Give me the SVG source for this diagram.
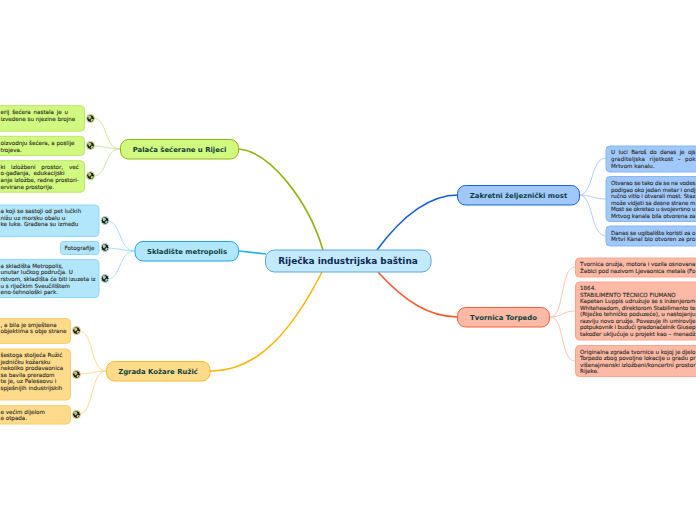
<svg xmlns="http://www.w3.org/2000/svg" width="696" height="520" viewBox="0 0 696 520">
<defs>
<g id="globe"><circle r="3.9" fill="#1c1c14" stroke="currentColor" stroke-width="1"/><path d="M-2.5-2.500L0-3 1-1-1 1-2 0ZM1 0L3 1 1 3 0 2Z" fill="#b9c9a0"/></g>
</defs>
<style>
text{font-family:"DejaVu Sans",Verdana,sans-serif}
.t{font-size:5.6px;fill:#2e2e26;stroke:#2e2e26;stroke-width:.12px}
.b{font-size:6.9px;font-weight:bold;fill:#0f3f3a}
.l{fill:none}
</style>
<rect width="696" height="520" fill="#fff"/>
<g id="connectors" class="l">
<g stroke-width="1.6">
<path d="M239 149C270 152 308 200 323 250" stroke="#8fb510"/>
<path d="M239 251L266 254" stroke="#1fb2ee"/>
<path d="M210 371C260 372 295 325 322 272" stroke="#fdb50a"/>
<path d="M377 250C405 212 432 195 458 195" stroke="#1560d8"/>
<path d="M378 272C405 302 430 317 458 317" stroke="#fa5a2a"/>
</g>
<g stroke-width="1">
<path d="M120 149C104 149 108 118 93 118" stroke="#cfe89a"/>
<path d="M120 149C110 149 105 146 93 146" stroke="#cfe89a"/>
<path d="M120 149C104 149 108 176 93 176" stroke="#cfe89a"/>
<path d="M135 251C118 251 122 221 107 221" stroke="#a6e0fb"/>
<path d="M135 251C124 251 118 248 107 248" stroke="#a6e0fb"/>
<path d="M135 251C118 251 122 279 107 279" stroke="#a6e0fb"/>
<path d="M106 371C90 371 94 331 79 331" stroke="#fcdc96"/>
<path d="M106 371C95 371 90 374 79 374" stroke="#fcdc96"/>
<path d="M106 371C90 371 94 414 79 414" stroke="#fcdc96"/>
<path d="M579 195C594 195 590 158 606 158" stroke="#b0cdfa"/>
<path d="M579 195C592 195 593 199 606 199" stroke="#b0cdfa"/>
<path d="M579 195C594 195 590 236 606 236" stroke="#b0cdfa"/>
<path d="M550 317C565 317 560 267 575 267" stroke="#fbc6b2"/>
<path d="M550 317C562 317 563 311 575 311" stroke="#fbc6b2"/>
<path d="M550 317C565 317 560 361 575 361" stroke="#fbc6b2"/>
</g>
</g>
<g id="root"><rect x="265.500" y="250" width="165.500" height="22" rx="9" fill="#c3e9fc" stroke="#58a8dc"/><text x="348" y="264.200" text-anchor="middle" style="font-size:8.950px;font-weight:bold;fill:#0d2a55">Riječka industrijska baština</text></g>
<g id="palaca"><rect x="120.500" y="139.500" width="118" height="19.500" rx="8" fill="#d2f97f" stroke="#8fb510"/><text x="179.500" y="151.700" text-anchor="middle" class="b">Palača šećerane u Rijeci</text></g>
<g id="skladiste"><rect x="135" y="241.500" width="103.500" height="19.500" rx="8" fill="#b1e6fd" stroke="#1fa8e6"/><text x="187" y="253.700" text-anchor="middle" class="b">Skladište metropolis</text></g>
<g id="ruzic"><rect x="106.500" y="361.500" width="103.500" height="19.500" rx="8" fill="#fedb8a" stroke="#fdb52a"/><text x="158" y="373.700" text-anchor="middle" class="b">Zgrada Kožare Ružić</text></g>
<g id="zakretni"><rect x="457.500" y="185.500" width="122" height="19.500" rx="8" fill="#a0c8fc" stroke="#1a62d4"/><text x="518.500" y="197.700" text-anchor="middle" class="b">Zakretni željeznički most</text></g>
<g id="torpedo"><rect x="457.500" y="307.500" width="92" height="19.500" rx="8" fill="#fbb9a6" stroke="#f4603a"/><text x="503.500" y="319.700" text-anchor="middle" class="b">Tvornica Torpedo</text></g>
<g id="p1"><rect x="-20" y="105.700" width="104.500" height="25.500" rx="4" fill="#d2f97f" stroke="#bde66a"/><use href="#globe" x="90.500" y="118.500" color="#d2f97f"/><text class="t"><tspan x="0.500" y="113.800" word-spacing="1">erij šećera nastala je u</tspan><tspan x="0.500" y="121">izvedene su njezine brojne</tspan></text></g>
<g id="p2"><rect x="-20" y="136.300" width="104.500" height="19.200" rx="4" fill="#d2f97f" stroke="#bde66a"/><use href="#globe" x="90.500" y="145.500" color="#d2f97f"/><text class="t"><tspan x="0.500" y="145">oizvodnju šećera, a poslije</tspan><tspan x="0.500" y="151.500">trojeva.</tspan></text></g>
<g id="p3"><rect x="-20" y="160.700" width="104.500" height="31.500" rx="4" fill="#d2f97f" stroke="#bde66a"/><use href="#globe" x="90.500" y="175.700" color="#d2f97f"/><text class="t"><tspan x="0.500" y="168.700" word-spacing="4">ki izložbeni prostor, već</tspan><tspan x="0.500" y="175.300" word-spacing="1.500">o-gađanja, edukacijski</tspan><tspan x="0.500" y="182">anje izložbe, radne prostori-</tspan><tspan x="0.500" y="188.700">ervirane prostorije.</tspan></text></g>
<g id="s1"><rect x="-20" y="205" width="119" height="31.500" rx="4" fill="#b1e6fd" stroke="#8fd8f8"/><use href="#globe" x="105" y="220.500" color="#b1e6fd"/><text class="t"><tspan x="0.500" y="213">a koji se sastoji od pet lučkih</tspan><tspan x="0.500" y="219.700">nižu uz morsku obalu u</tspan><tspan x="0.500" y="226">ke luke. Građena su između</tspan></text></g>
<g id="s2"><rect x="60.500" y="241.500" width="38.500" height="13" rx="3" fill="#b1e6fd" stroke="#8fd8f8"/><use href="#globe" x="105" y="247.500" color="#b1e6fd"/><text x="79.500" y="250" text-anchor="middle" class="t">Fotografije</text></g>
<g id="s3"><rect x="-20" y="259.500" width="119" height="38" rx="4" fill="#b1e6fd" stroke="#8fd8f8"/><use href="#globe" x="105" y="278.500" color="#b1e6fd"/><text class="t"><tspan x="0.500" y="268">a skladišta Metropolis,</tspan><tspan x="0.500" y="274.300">unutar lučkog područja. U</tspan><tspan x="0.500" y="281">rstvom, skladišta će biti izuzeta iz</tspan><tspan x="0.500" y="287.500">u s riječkim Sveučilištem</tspan><tspan x="0.500" y="294">eno-tehnološki park.</tspan></text></g>
<g id="r1"><rect x="-20" y="318.500" width="90.500" height="25" rx="4" fill="#fedb8a" stroke="#fbcf70"/><use href="#globe" x="76.500" y="330.500" color="#fedb8a"/><text class="t"><tspan x="0.500" y="327">, a bila je smještena</tspan><tspan x="0.500" y="333">objektima s obje strane</tspan></text></g>
<g id="r2"><rect x="-20" y="349" width="90.500" height="51" rx="4" fill="#fedb8a" stroke="#fbcf70"/><use href="#globe" x="76.500" y="374.500" color="#fedb8a"/><text class="t"><tspan x="0.500" y="357.300">šestoga stoljeća Ružić</tspan><tspan x="0.500" y="364">jedničku kožarsku</tspan><tspan x="0.500" y="370.300">nekoliko prodavaonica</tspan><tspan x="0.500" y="377">se bavila preradom</tspan><tspan x="0.500" y="383.300">te je, uz Paleseovu i</tspan><tspan x="0.500" y="390">spješnijih industrijskih</tspan></text></g>
<g id="r3"><rect x="-20" y="405.500" width="90.500" height="18.500" rx="4" fill="#fedb8a" stroke="#fbcf70"/><use href="#globe" x="76.500" y="414.500" color="#fedb8a"/><text class="t"><tspan x="0.500" y="413.700">e većim dijelom</tspan><tspan x="0.500" y="420">e otpada.</tspan></text></g>
<g id="z1"><rect x="606" y="146" width="110" height="26" rx="4" fill="#a0c8fc" stroke="#86b6f6"/><text class="t"><tspan x="611" y="154" word-spacing="2" textLength="84.500">U luci Baroš do danas je ojs</tspan><tspan x="611" y="161" word-spacing="2.500" textLength="84.500">graditeljska rijetkost – pok</tspan><tspan x="611" y="167.500">Mrtvom kanalu.</tspan></text></g>
<g id="z2"><rect x="606" y="176.500" width="110" height="45" rx="4" fill="#a0c8fc" stroke="#86b6f6"/><text class="t"><tspan x="611" y="185" textLength="84.500">Otvarao se tako da se na vodes</tspan><tspan x="611" y="191.500" textLength="84.500">podigao oko jedan metar i ondj</tspan><tspan x="611" y="198" textLength="84.500">ručno vitlo i otvarali most. Staz</tspan><tspan x="611" y="204.500" textLength="84.500">može vidjeti sa desne strane m</tspan><tspan x="611" y="211" textLength="84.500">Most se okretao u svojevrsno u</tspan><tspan x="611" y="217.500" textLength="84.500">Mrtvog kanala bila otvorena za</tspan></text></g>
<g id="z3"><rect x="606" y="226" width="110" height="20" rx="4" fill="#a0c8fc" stroke="#86b6f6"/><text class="t"><tspan x="611" y="234.500" textLength="84.500">Danas se ugibalište koristi za o</tspan><tspan x="611" y="241" textLength="84.500">Mrtvi Kanal bio otvoren za pro</tspan></text></g>
<g id="t1"><rect x="575.500" y="258" width="140" height="19" rx="4" fill="#fbb9a6" stroke="#f9a68e"/><text class="t"><tspan x="580" y="266" textLength="115.500">Tvornica oružja, motora i vozila osnovana</tspan><tspan x="580" y="273" textLength="115.500">Žabici pod nazivom Ljevaonica metala (Fo</tspan></text></g>
<g id="t2"><rect x="575.500" y="282" width="140" height="58" rx="4" fill="#fbb9a6" stroke="#f9a68e"/><text class="t"><tspan x="580" y="290">1864.</tspan><tspan x="580" y="296.500">STABILIMENTO TECNICO FIUMANO</tspan><tspan x="580" y="303" textLength="115.500">Kapetan Luppis udružuje se s inženjerom</tspan><tspan x="580" y="309.500" textLength="115.500">Whiteheadom, direktorom Stabilimento te</tspan><tspan x="580" y="316" textLength="115.500">(Riječko tehničko poduzeće), u nastojanju</tspan><tspan x="580" y="322.500" textLength="115.500">razviju novo oružje. Povezuje ih umirovlje</tspan><tspan x="580" y="329" textLength="115.500">potpukovnik i budući gradonačelnik Giusep</tspan><tspan x="580" y="335.500" textLength="115.500">također uključuje u projekt kao – menadž</tspan></text></g>
<g id="t3"><rect x="575.500" y="345.500" width="140" height="31" rx="4" fill="#fbb9a6" stroke="#f9a68e"/><text class="t"><tspan x="580" y="353.500" textLength="115.500">Originalna zgrada tvornice u kojoj je djelo</tspan><tspan x="580" y="360" textLength="115.500">Torpedo zbog povoljne lokacije u gradu pr</tspan><tspan x="580" y="366.500" textLength="115.500">višenajmenski izložbeni/koncertni prostor</tspan><tspan x="580" y="373">Rijeke.</tspan></text></g>
</svg>
